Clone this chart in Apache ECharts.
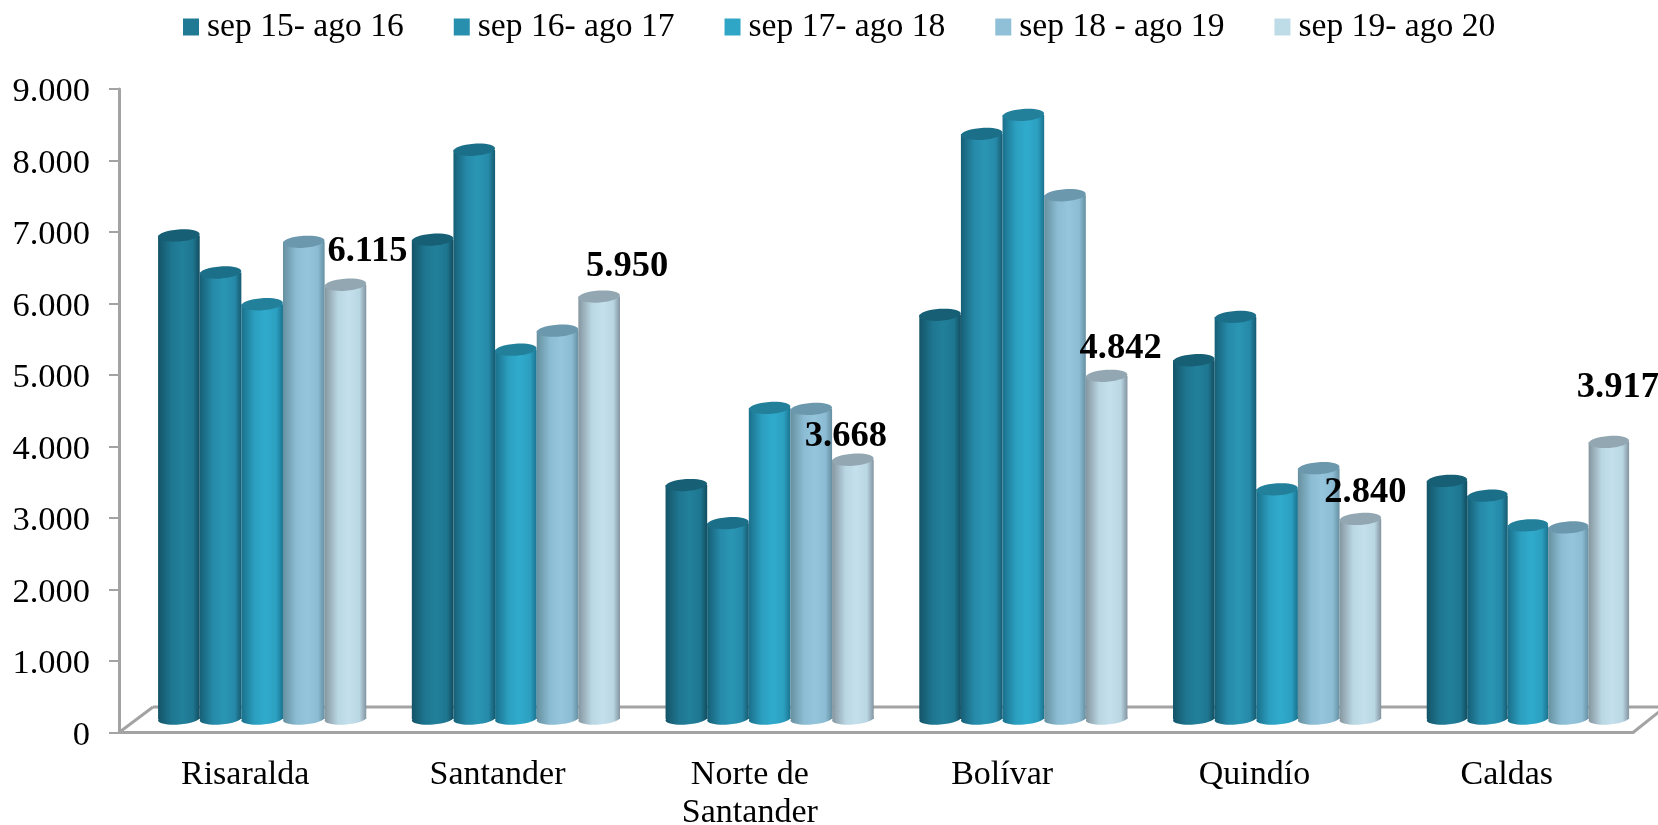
<!DOCTYPE html>
<html>
<head>
<meta charset="utf-8">
<style>html,body{margin:0;padding:0;background:#fff}#c{width:1658px;height:825px}</style>
<script src="https://cdn.jsdelivr.net/npm/echarts@6/dist/echarts.min.js"></script>
</head>
<body>
<div id="c"></div>
<script>
const categories = ['Risaralda', 'Santander', 'Norte de\nSantander', 'Bolívar', 'Quindío', 'Caldas'];
const seriesNames = ['sep 15- ago 16', 'sep 16- ago 17', 'sep 17- ago 18', 'sep 18 - ago 19', 'sep 19- ago 20'];
const sep15 = [6805, 6746, 3314, 5695, 5059, 3373];
const sep16 = [6287, 8003, 2781, 8225, 5666, 3166];
const sep17 = [5843, 5207, 4393, 8491, 3254, 2751];
const sep18 = [6716, 5473, 4379, 7367, 3550, 2722];
const sep19 = [6115, 5950, 3668, 4842, 2840, 3917];
const allValues = [sep15, sep16, sep17, sep18, sep19];

// Styles: [edge-left, mid, centre, edge-right, top cap, legend]
const palette = [
  ['#145468', '#1e7690', '#22809b', '#124d60', '#175f75', '#207a94'],
  ['#165f76', '#268aa9', '#2a96b4', '#165a70', '#1c6f88', '#2890ae'],
  ['#1a708b', '#2c9fc0', '#30abcc', '#1a7390', '#22809b', '#2fa6c6'],
  ['#66909f', '#8bbcd3', '#94c5dc', '#668fa2', '#6c98ad', '#8fc0d8'],
  ['#85969f', '#b9d6e3', '#c4e0ec', '#8394a0', '#92a7b1', '#bedbe8']
];
// Hand-placed label nudges relative to the column top, as in the reference
const labelNudge = [[22, -33], [28, -30], [-7, -23.5], [14, -27], [5, -26.5], [9, -54]];
// The last group of columns is drawn slightly narrower in the reference
const groupScale = [1, 1, 1, 1, 1, 0.972];

const depthX = 17, depthSpread = 1.4, depthY = -10.5, capRy = 6, capTilt = 0.07;
const fmt = v => String(v).replace(/\B(?=(\d{3})+$)/g, '.');
const serif = '"Liberation Serif", serif';

function makeRender(s) {
  const p = palette[s];
  return function (params, api) {
    const cat = api.value(0), val = api.value(1);
    const top = api.coord([cat, val]);
    const base = api.coord([cat, 0]);
    const w0 = api.size([1, 0])[0] * 0.165;
    const w = w0 * groupScale[cat];
    const groupLeft = top[0] + depthX + cat * depthSpread - 2.5 * w0;
    const cx = groupLeft + (s + 0.5) * w;
    const yTop = top[1] + depthY, yBase = base[1] + depthY - 3;
    const grad = {
      type: 'linear', x: 0, y: 0, x2: 1, y2: 0,
      colorStops: [
        { offset: 0, color: p[0] }, { offset: 0.32, color: p[1] },
        { offset: 0.58, color: p[2] }, { offset: 0.84, color: p[1] },
        { offset: 1, color: p[3] }
      ]
    };
    const children = [
      { type: 'ellipse', originX: cx, originY: yBase, rotation: capTilt,
        shape: { cx, cy: yBase, rx: w / 2, ry: capRy - 0.5 }, style: { fill: grad } },
      { type: 'rect', shape: { x: cx - w / 2, y: yTop, width: w, height: yBase - yTop }, style: { fill: grad } },
      { type: 'ellipse', originX: cx, originY: yTop, rotation: capTilt,
        shape: { cx, cy: yTop, rx: w / 2, ry: capRy }, style: { fill: p[4] } }
    ];
    if (s === 4) {
      const n = labelNudge[cat];
      children.push({
        type: 'text', z2: 50,
        style: {
          x: cx + n[0], y: yTop + n[1], text: fmt(val), fill: '#000',
          font: 'bold 36.5px ' + serif, align: 'center', verticalAlign: 'middle'
        }
      });
    }
    return { type: 'group', children };
  };
}

const chart = echarts.init(document.getElementById('c'), null, { renderer: 'canvas' });
const gridL = 119, gridR = 1633, gridB = 732.5, floorY = 707;
const lineStyle = { stroke: '#a3a3a3', lineWidth: 3 };

chart.setOption({
  animation: false,
  backgroundColor: '#fff',
  legend: {
    left: 178, top: 5, icon: 'rect', itemWidth: 16, itemHeight: 17, itemGap: 50,
    itemStyle: { borderWidth: 0 },
    textStyle: { fontFamily: serif, fontSize: 33.6, color: '#000', padding: [0, 0, 0, 3] },
    data: seriesNames
  },
  grid: { left: gridL, right: 1658 - gridR, top: 89, bottom: 825 - gridB, outerBoundsMode: 'none' },
  xAxis: {
    type: 'category', data: categories,
    axisLine: { lineStyle: { color: '#a3a3a3', width: 3 } },
    axisTick: { length: 11, lineStyle: { color: '#a3a3a3', width: 2 } },
    axisLabel: { fontFamily: serif, fontSize: 34, color: '#000', margin: 24, lineHeight: 38, interval: 0 }
  },
  yAxis: {
    type: 'value', min: 0, max: 9000, interval: 1000,
    splitLine: { show: false },
    axisLine: { show: true, lineStyle: { color: '#a3a3a3', width: 3 } },
    axisTick: { show: true, length: 10, lineStyle: { color: '#a3a3a3', width: 2 } },
    axisLabel: {
      color: '#000', margin: 29,
      formatter: v => '{n|' + fmt(v) + '}',
      rich: { n: { fontFamily: serif, fontSize: 34.5, color: '#000', padding: [6, 0, 0, 0] } }
    }
  },
  graphic: [
    { type: 'line', z: 0, shape: { x1: gridL, y1: gridB, x2: 153, y2: floorY }, style: lineStyle },
    { type: 'line', z: 0, shape: { x1: 153, y1: floorY, x2: 1658, y2: floorY }, style: lineStyle },
    { type: 'line', z: 0, shape: { x1: gridR, y1: gridB, x2: 1660, y2: 711 }, style: lineStyle }
  ],
  series: allValues.map((vals, s) => ({
    name: seriesNames[s],
    type: 'custom',
    coordinateSystem: 'cartesian2d',
    z: 5 + s,
    clip: false,
    itemStyle: { color: palette[s][5] },
    encode: { x: 0, y: 1 },
    data: vals.map((v, i) => [i, v]),
    renderItem: makeRender(s)
  }))
});
</script>
</body>
</html>
